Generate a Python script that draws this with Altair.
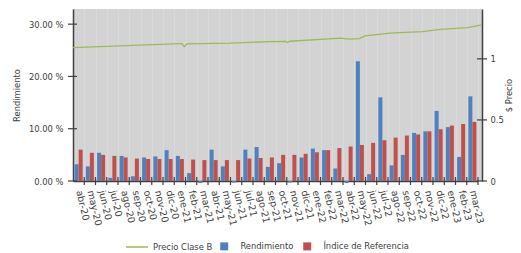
import altair as alt
import pandas as pd

months = ["abr-20","may-20","jun-20","jul-20","ago-20","sep-20","oct-20","nov-20","dic-20",
          "ene-21","feb-21","mar-21","abr-21","may-21","jun-21","jul-21","ago-21","sep-21",
          "oct-21","nov-21","dic-21","ene-22","feb-22","mar-22","abr-22","may-22","jun-22",
          "jul-22","ago-22","sep-22","oct-22","nov-22","dic-22","ene-23","feb-23","mar-23"]

rendimiento = [3.2,2.8,5.4,0.6,4.8,0.9,4.5,4.7,5.9,4.8,1.5,-0.4,6.0,2.8,-0.3,6.0,6.5,2.7,
               3.4,-0.3,4.5,6.2,5.9,2.4,-0.4,22.9,1.3,16.0,3.0,5.0,9.2,9.5,13.4,10.3,4.6,16.2]
indice = [6.0,5.4,5.0,4.8,4.5,4.3,4.2,4.2,4.2,4.2,4.1,4.0,4.0,4.0,4.0,4.3,4.4,4.5,
          5.0,5.0,5.2,5.5,5.9,6.3,6.6,6.9,7.3,7.8,8.3,8.7,8.9,9.5,9.9,10.6,10.9,11.3]

# price line: position in months from start, value
price_pos = [0, 9.5, 9.7, 9.9, 10.15, 14, 17.5, 18.9, 19.1, 19.3, 23.8, 24.6, 25.5, 26,
             28.2, 31.1, 32.7, 35.1, 36.4]
price_val = [1.092, 1.125, 1.125, 1.100, 1.122, 1.128, 1.141, 1.143, 1.133, 1.144, 1.169,
             1.161, 1.166, 1.188, 1.210, 1.223, 1.242, 1.256, 1.278]

left_ticks = [0, 10, 20, 30]
right_ticks = [0, 0.5, 1]

series = ["Rendimiento", "Índice de Referencia"]
line_name = "Precio Clase B"
colors = ["#4F81BD", "#C0504D"]
green = "#9BBB59"
txt = "#404040"
FONT = "DejaVu Sans"
FS = 8.4

rows = []
for m, r, i in zip(months, rendimiento, indice):
    rows.append({"mes": m, "serie": series[0], "valor": r})
    rows.append({"mes": m, "serie": series[1], "valor": i})
bars_df = pd.DataFrame(rows)
months_df = pd.DataFrame({"mes": months})
lt_df = pd.DataFrame({"v": left_ticks})
rt_df = pd.DataFrame({"v": right_ticks})
price_df = pd.DataFrame({"pos": price_pos, "precio": price_val,
                         "serie": [line_name] * len(price_pos)})

W, H = 409, 172

xscale = alt.Scale(domain=months, range=[0, 405], paddingInner=0, paddingOuter=0)
yscale = alt.Scale(domain=[0, 32.9], nice=False, zero=False)
pscale = alt.Scale(domain=[0, 1.408], nice=False, zero=False)

xaxis = alt.Axis(title=None, labelAngle=77, labelAlign="left", labelBaseline="middle",
                 ticks=False, domainColor=txt, domainWidth=1.5, grid=True,
                 gridColor="#DADADA", gridWidth=1, tickBand="extent",
                 labelPadding=9, labelColor=txt, labelFontSize=9.5, labelFont=FONT,
                 labelOverlap=False)

yaxis = alt.Axis(values=left_ticks, title="Rendimiento", ticks=False, grid=False,
                 labelExpr="format(datum.value, '.2f') + ' %'",
                 domainColor=txt, domainWidth=1.5, labelPadding=10,
                 labelColor=txt, labelFontSize=FS, labelFont=FONT,
                 titleX=-57, titleY=86, titleAngle=-90, titleBaseline="middle",
                 titleColor=txt, titleFontSize=FS, titleFontWeight="normal",
                 titleFont=FONT)

raxis = alt.Axis(orient="right", values=right_ticks, format="~g", title="$ Precio",
                 ticks=False, grid=False, domainColor=txt, domainWidth=1.5,
                 labelPadding=8, labelColor=txt, labelFontSize=FS, labelFont=FONT,
                 titleX=26, titleY=86, titleAngle=-90, titleBaseline="middle",
                 titleColor=txt, titleFontSize=FS, titleFontWeight="normal",
                 titleFont=FONT)

bars = alt.Chart(bars_df).mark_bar().encode(
    x=alt.X("mes:N", scale=xscale, sort=months, axis=xaxis),
    xOffset=alt.XOffset("serie:N", sort=series,
                        scale=alt.Scale(domain=series, paddingOuter=0.4, paddingInner=0)),
    y=alt.Y("valor:Q", scale=yscale, axis=yaxis),
    color=alt.Color("serie:N", scale=alt.Scale(domain=series, range=colors),
                    legend=alt.Legend(title=None, orient="none", legendX=147, legendY=233,
                                      direction="horizontal", symbolType="square",
                                      symbolSize=64, symbolStrokeWidth=0, labelOffset=12,
                                      columnPadding=9, padding=0, labelColor=txt,
                                      labelFontSize=FS, labelFont=FONT)),
)

xticks = alt.Chart(months_df).mark_rule(color=txt, strokeWidth=1.2).encode(
    x=alt.X("mes:N", scale=xscale, sort=months, bandPosition=1, axis=xaxis),
    y=alt.value(H - 4), y2=alt.value(H + 4),
)

lticks = alt.Chart(lt_df).mark_rule(color=txt, strokeWidth=1.2).encode(
    y=alt.Y("v:Q", scale=yscale, axis=yaxis),
    x=alt.value(-5), x2=alt.value(4),
)

left = alt.layer(bars, xticks, lticks)

line = alt.Chart(price_df).mark_line(strokeWidth=1.3).encode(
    x=alt.X("pos:Q", scale=alt.Scale(domain=[0, 36.4], nice=False, zero=False), axis=None),
    y=alt.Y("precio:Q", scale=pscale, axis=raxis),
    stroke=alt.Stroke("serie:N",
                      scale=alt.Scale(domain=[line_name], range=[green]),
                      legend=alt.Legend(title=None, orient="none", legendX=52, legendY=226,
                                        symbolType="stroke", symbolSize=484,
                                        symbolStrokeWidth=1.5, labelOffset=4, padding=0,
                                        labelColor=txt, labelFontSize=FS, labelFont=FONT)),
)

rticks = alt.Chart(rt_df).mark_rule(color=txt, strokeWidth=1.2).encode(
    y=alt.Y("v:Q", scale=pscale, axis=raxis),
    x=alt.value(W - 5), x2=alt.value(W + 5),
)

right = alt.layer(line, rticks)

chart = alt.layer(left, right).resolve_scale(
    x="independent", y="independent", color="independent", stroke="independent"
).properties(
    width=W, height=H,
    autosize=alt.AutoSizeParams(type="none"),
    padding={"left": 65, "top": 1, "right": 31, "bottom": 72},
    background="white",
).configure_view(fill="#D3D3D3", stroke=None)

chart.save("out.html", embed_options={"renderer": "svg", "actions": False})
